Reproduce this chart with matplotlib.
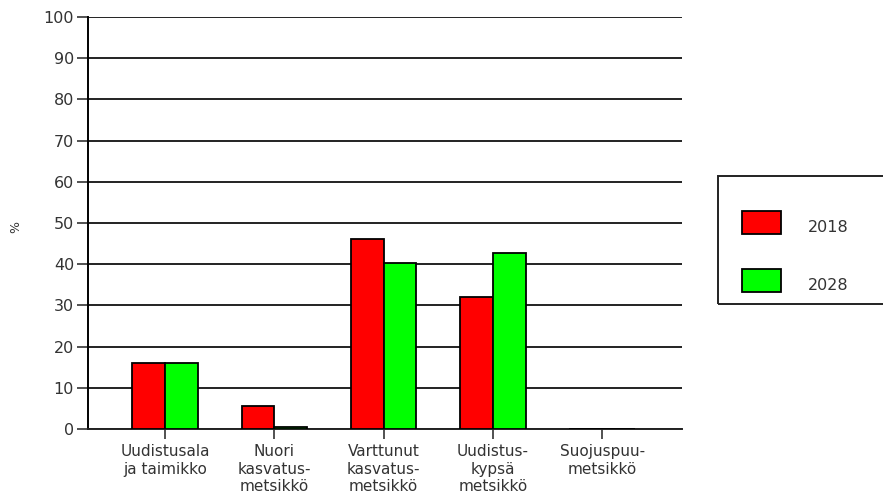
import matplotlib
matplotlib.use("Agg")
import matplotlib.pyplot as plt
import numpy as np
from matplotlib.patches import Rectangle

plt.rcParams['font.family'] = ['DejaVu Sans']

categories = ["Uudistusala\nja taimikko", "Nuori\nkasvatus-\nmetsikkö",
              "Varttunut\nkasvatus-\nmetsikkö", "Uudistus-\nkypsä\nmetsikkö",
              "Suojuspuu-\nmetsikkö"]
series_names = ["2018", "2028"]
values_2018 = [16.0, 5.6, 46.1, 32.0, 0.0]
values_2028 = [16.0, 0.5, 40.3, 42.7, 0.0]
colors = ["#ff0000", "#00ff00"]
yticks = [0, 10, 20, 30, 40, 50, 60, 70, 80, 90, 100]

W, H = 883, 500
fig = plt.figure(figsize=(W / 100, H / 100), dpi=100)
ax = fig.add_axes([88 / W, 1 - 429 / H, (682 - 88) / W, (429 - 17) / H])

x = np.arange(len(categories))
bw = 0.3
for vals, col, off, name in [(values_2018, colors[0], -bw / 2, series_names[0]),
                             (values_2028, colors[1], bw / 2, series_names[1])]:
    ax.bar(x + off, vals, width=bw, color=col, edgecolor='black', linewidth=1.3,
           zorder=3, label=name)

ax.set_ylim(0, 100)
ax.set_xlim(-0.706, 4.73)
ax.set_yticks(yticks)
ax.set_yticklabels([str(v) for v in yticks])
ax.set_xticks(x)
ax.set_xticklabels(categories, linespacing=1.2)
ax.yaxis.grid(True, color='#222222', linewidth=1.4, zorder=0)
ax.set_axisbelow(True)
for s in ['top', 'right']:
    ax.spines[s].set_visible(False)
ax.spines['left'].set_linewidth(1.4)
ax.spines['bottom'].set_linewidth(1.4)
ax.spines['bottom'].set_color('#222222')
ax.tick_params(axis='y', length=8, width=1.2, labelsize=11.5, pad=2, colors='#333333')
ax.tick_params(axis='x', length=7, width=1.2, labelsize=11, pad=4, colors='#333333')
ax.set_ylabel('%', fontsize=9, color='#333333')
ax.yaxis.set_label_coords(-66 / 594, 0.49)

# legend box
lx0, ly0, lx1, ly1 = 718, 176, 900, 304
fig.patches.append(Rectangle((lx0 / W, 1 - ly1 / H), (lx1 - lx0) / W, (ly1 - ly0) / H,
                             transform=fig.transFigure, fill=False, edgecolor='#222222',
                             linewidth=1.4))
for i, (name, col) in enumerate(zip(series_names, colors)):
    yc = 222 + i * 58
    fig.patches.append(Rectangle((742 / W, 1 - (yc + 11.5) / H), 39 / W, 23 / H,
                                 transform=fig.transFigure, facecolor=col,
                                 edgecolor='black', linewidth=1.3))
    fig.text(808 / W, 1 - (yc + 5) / H, name, fontsize=11.5, va='center', ha='left',
             color='#333333')

fig.savefig('out.png', dpi=100)
